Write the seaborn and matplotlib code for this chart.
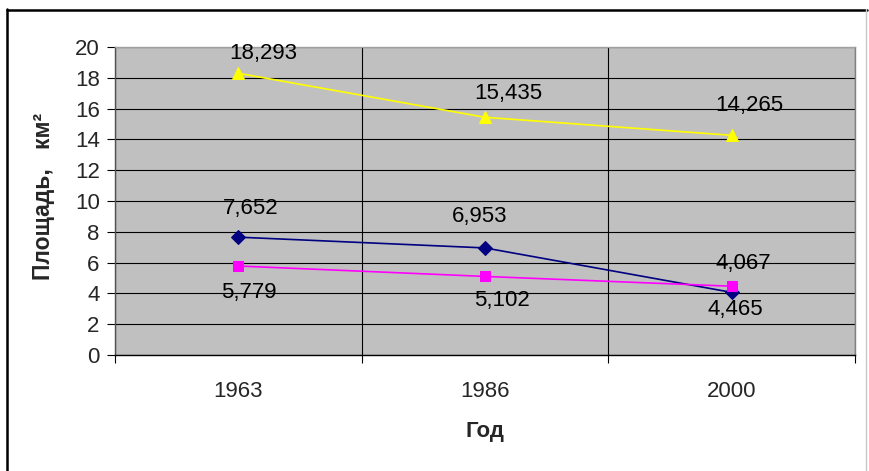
import matplotlib
matplotlib.use('Agg')
import matplotlib.pyplot as plt
import seaborn as sns
import pandas as pd
from matplotlib.lines import Line2D
from matplotlib.ticker import FixedLocator

# du lieu doc tu hinh
years = ['1963', '1986', '2000']
yellow_vals = [18.293, 15.435, 14.265]
navy_vals = [7.652, 6.953, 4.067]
pink_vals = [5.779, 5.102, 4.465]

sns.set_theme(style='white')
plt.rcParams['font.family'] = ['Liberation Sans', 'DejaVu Sans']

fig = plt.figure(figsize=(8.7, 4.71), dpi=100)
ax = fig.add_axes([115 / 870, 1 - 355 / 471, 740 / 870, 308 / 471])
ax.set_facecolor('#c0c0c0')

pos = list(range(len(years)))
df = pd.DataFrame({'pos': pos, 'yellow': yellow_vals, 'navy': navy_vals, 'pink': pink_vals})

# (mau, marker, co marker, offset nhan theo pixel)
styles = {
    'yellow': ('#ffff00', '^', 9, [(25, 20), (23, 24), (18, 30)]),
    'navy': ('#000080', 'D', 7, [(12, 29), (-5, 31), (12, 29)]),
    'pink': ('#ff00ff', 's', 7.5, [(10, -26), (17, -24), (4, -23)]),
}

for name, (col, mk, ms, offs) in styles.items():
    sns.lineplot(data=df, x='pos', y=name, ax=ax, color=col, marker=mk,
                 markersize=ms, markeredgecolor=col, linewidth=1.2, zorder=3)
    for x, v, (dx, dy) in zip(df['pos'], df[name], offs):
        ax.annotate(f"{v:.3f}".replace('.', ','), (x, v), xytext=(dx, dy),
                    textcoords='offset pixels', ha='center', va='center',
                    fontsize=16, color='black', zorder=4)

ax.set_xlim(-0.5, len(years) - 0.5)
ax.set_ylim(0, 20)
ax.set_yticks(range(0, 21, 2))
ax.set_xticks(pos)
ax.set_xticklabels(years)
ax.xaxis.set_minor_locator(FixedLocator([p - 0.5 for p in pos] + [pos[-1] + 0.5]))
ax.set_xlabel('')
ax.set_ylabel('')

ax.grid(True, axis='y', which='major', color='black', linewidth=0.8)
ax.grid(True, axis='x', which='minor', color='black', linewidth=0.8)
ax.set_axisbelow(True)

ax.tick_params(axis='y', which='major', direction='out', length=6, width=0.8,
               color='black', labelsize=16, pad=5, left=True)
ax.tick_params(axis='x', which='major', length=0, labelsize=16, pad=19)
ax.tick_params(axis='x', which='minor', direction='out', length=6, width=0.8,
               color='black', bottom=True)

ax.spines['bottom'].set_color('black')
ax.spines['left'].set_color('#505050')
ax.spines['top'].set_color('#a0a0a0')
ax.spines['right'].set_color('#808080')
for s in ax.spines.values():
    s.set_linewidth(1.0)

fig.text(44 / 870, 1 - 196 / 471, 'Площадь,   км²', rotation=90, ha='center',
         va='center', fontsize=16.5, fontweight='bold')
fig.text(485 / 870, 1 - 431 / 471, 'Год', ha='center', va='center',
         fontsize=16, fontweight='bold')

# khung ngoai
fig.add_artist(Line2D([7.5 / 870, 7.5 / 870], [0, 1 - 9 / 471], color='black',
                      linewidth=1.8, transform=fig.transFigure))
fig.add_artist(Line2D([7 / 870, 867 / 870], [1 - 9.5 / 471, 1 - 9.5 / 471],
                      color='black', linewidth=1.8, transform=fig.transFigure))
fig.add_artist(Line2D([866.5 / 870, 866.5 / 870], [0, 1 - 9 / 471], color='#c8c8c8',
                      linewidth=1.0, transform=fig.transFigure))

fig.savefig('out.png', dpi=100)
